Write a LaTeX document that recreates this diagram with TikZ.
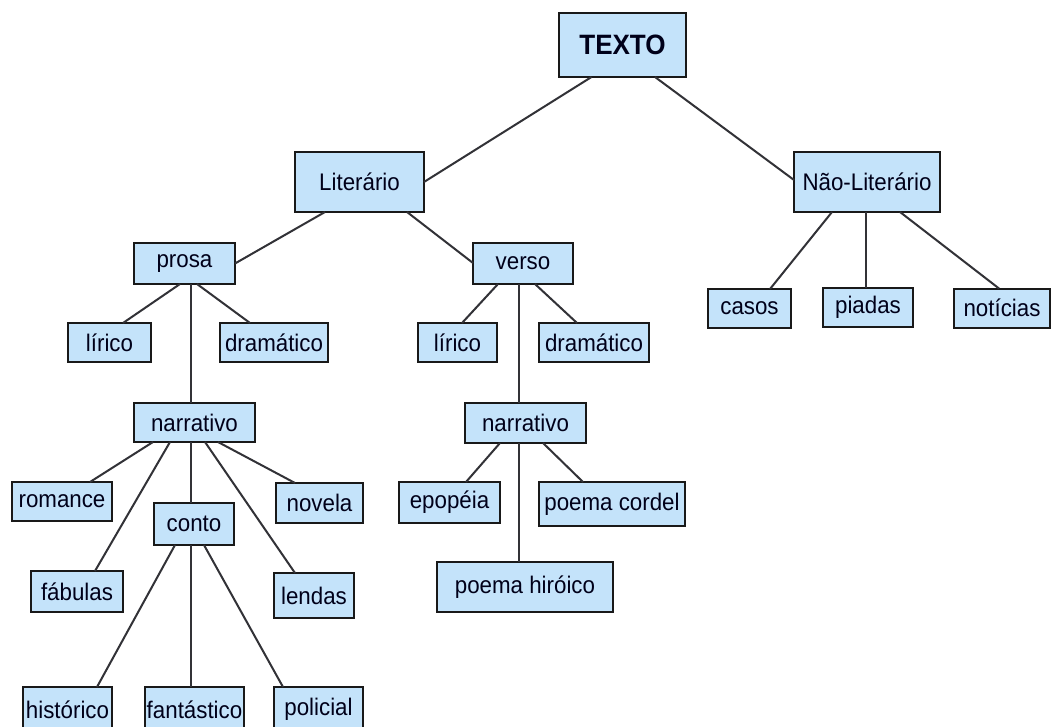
\documentclass[tikz,border=0pt]{standalone}
\usepackage{fontspec}
\setmainfont[FakeStretch=0.93]{Liberation Sans}
\definecolor{caixaazul}{RGB}{196,227,250}
\definecolor{linha}{RGB}{50,50,55}
\begin{document}
\begin{tikzpicture}[x=1pt,y=-1pt,inner sep=0pt,outer sep=0pt,
caixa/.style={draw=black!90,fill=caixaazul,rectangle,line width=2pt,minimum height=39pt,font=\fontsize{24}{26}\selectfont,text=black!90!blue},
liga/.style={draw=linha,line width=2pt}]
\clip (0,0) rectangle (1051,727);
\fill[white] (0,0) rectangle (1051,727);
% topo
\draw (622.5,45) node[caixa,minimum width=127pt,minimum height=64pt,font=\fontsize{28}{30}\selectfont\bfseries] (texto) {TEXTO};
\draw (359.5,182) node[caixa,minimum width=129pt,minimum height=60pt] (lit) {Literário};
\draw (867,182) node[caixa,minimum width=146pt,minimum height=60pt] (naolit) {Não-Literário};
% prosa e verso
\draw (184.5,263.5) node[caixa,minimum width=101pt,minimum height=41pt] (prosa) {prosa};
\draw (523,263.5) node[caixa,minimum width=100pt,minimum height=41pt] (verso) {verso};
\draw (109.5,342.5) node[caixa,minimum width=83pt] (liricoA) {lírico};
\draw (274,342.5) node[caixa,minimum width=108pt] (dramA) {dramático};
\draw (457.5,342.5) node[caixa,minimum width=79pt] (liricoB) {lírico};
\draw (594,342.5) node[caixa,minimum width=110pt] (dramB) {dramático};
% nao literario
\draw (749.5,308.5) node[caixa,minimum width=83pt] (casos) {casos};
\draw (868,307.5) node[caixa,minimum width=90pt] (piadas) {piadas};
\draw (1002,308) node[caixa,minimum width=96pt] (noticias) {notícias};
% narrativo (prosa)
\draw (194.5,422.5) node[caixa,minimum width=121pt] (narrA) {narrativo};
\draw (62,501.5) node[caixa,minimum width=100pt] (romance) {romance};
\draw (194,524) node[caixa,minimum width=80pt,minimum height=42pt] (conto) {conto};
\draw (319.5,503) node[caixa,minimum width=87pt,minimum height=40pt] (novela) {novela};
\draw (77,591.5) node[caixa,minimum width=92pt,minimum height=41pt] (fabulas) {fábulas};
\draw (314,595.5) node[caixa,minimum width=80pt,minimum height=45pt] (lendas) {lendas};
\draw (67.5,709.5) node[caixa,minimum width=89pt,minimum height=45pt] (historico) {histórico};
\draw (194.5,709.5) node[caixa,minimum width=99pt,minimum height=45pt] (fantastico) {fantástico};
\draw (318.5,709.5) node[caixa,minimum width=89pt,minimum height=45pt] (policial) {policial};
% narrativo (verso)
\draw (525.5,423) node[caixa,minimum width=121pt,minimum height=40pt] (narrB) {narrativo};
\draw (449.5,502.5) node[caixa,minimum width=101pt,minimum height=41pt] (epopeia) {epopéia};
\draw (612,504) node[caixa,minimum width=146pt,minimum height=44pt] (cordel) {poema cordel};
\draw (525,587) node[caixa,minimum width=176pt,minimum height=50pt] (hiroico) {poema hiróico};
% ligacoes
\draw[liga] ([xshift=-31pt]texto.south) -- (lit.east);
\draw[liga] ([xshift=32.5pt]texto.south) -- ([yshift=2pt]naolit.west);
\draw[liga] ([xshift=-34.5pt]lit.south) -- (prosa.east);
\draw[liga] ([xshift=47.5pt]lit.south) -- ([yshift=0.5pt]verso.west);
\draw[liga] ([xshift=-4.5pt]prosa.south) -- ([xshift=13.5pt]liricoA.north);
\draw[liga] ([xshift=12.5pt]prosa.south) -- ([xshift=-24pt]dramA.north);
\draw[liga] ([xshift=6.5pt]prosa.south) -- ([xshift=-3.5pt]narrA.north);
\draw[liga] ([xshift=-25pt]verso.south) -- ([xshift=4.5pt]liricoB.north);
\draw[liga] ([xshift=12pt]verso.south) -- ([xshift=-17pt]dramB.north);
\draw[liga] ([xshift=-4pt]verso.south) -- ([xshift=-6.5pt]narrB.north);
\draw[liga] ([xshift=-35pt]naolit.south) -- ([xshift=20.5pt]casos.north);
\draw[liga] ([xshift=-1pt]naolit.south) -- ([xshift=-2pt]piadas.north);
\draw[liga] ([xshift=33pt]naolit.south) -- ([xshift=-3pt]noticias.north);
\draw[liga] ([xshift=-41.5pt]narrA.south) -- ([xshift=28pt]romance.north);
\draw[liga] ([xshift=-24.5pt]narrA.south) -- ([xshift=18pt]fabulas.north);
\draw[liga] ([xshift=-3.5pt]narrA.south) -- ([xshift=-3pt]conto.north);
\draw[liga] ([xshift=10.5pt]narrA.south) -- ([xshift=-19pt]lendas.north);
\draw[liga] ([xshift=23.5pt]narrA.south) -- ([xshift=-24.5pt]novela.north);
\draw[liga] ([xshift=-19pt]conto.south) -- ([xshift=29.5pt]historico.north);
\draw[liga] ([xshift=-3pt]conto.south) -- ([xshift=-3.5pt]fantastico.north);
\draw[liga] ([xshift=10pt]conto.south) -- ([xshift=-35.5pt]policial.north);
\draw[liga] ([xshift=-25.5pt]narrB.south) -- ([xshift=16.5pt]epopeia.north);
\draw[liga] ([xshift=17.5pt]narrB.south) -- ([xshift=-29pt]cordel.north);
\draw[liga] ([xshift=-6.5pt]narrB.south) -- ([xshift=-6pt]hiroico.north);
\end{tikzpicture}
\end{document}
